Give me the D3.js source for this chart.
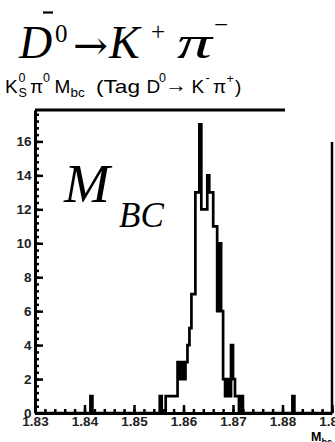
<!DOCTYPE html>
<html><head><meta charset="utf-8">
<script src="https://cdn.jsdelivr.net/npm/d3@7"></script>
<style>body{margin:0;background:#fff}svg{display:block}</style>
</head><body><svg id="c" width="335" height="442"></svg>
<script>
// ---- data ----
const xDomain = [1.83, 1.89];
const yMax = 17.85;
const binLow = 1.83;
const binWidth = 0.0004;
const counts = [
  0,0,0,0,0,0,0,0,0,0,
  0,0,0,0,0,0,0,0,0,0,
  0,0,0,0,0,0,0,0,1,0,
  0,0,0,0,0,0,0,0,0,0,
  0,0,0,0,0,0,0,0,0,0,
  0,0,0,0,0,0,0,0,0,0,
  0,0,0,1,0,0,1,1,1,1,
  1,1,3,2,3,2,3,4,5,7,
  7,13,13,17,12,12,12,14,13,13,
  11,11,6,10,6,2,1,2,1,4,
  2,1,1,0,1,0,0,0,0,0,
  0,0,0,0,0,0,0,0,0,0,
  0,0,0,0,0,0,0,0,0,0,
  1,0,0,0,0,0,0,0,0,0,
  0,0,0,0,0,0,0,0,0,0
];
const xTicks = [1.83, 1.84, 1.85, 1.86, 1.87, 1.88, 1.89];
const xMinorStep = 0.002;
const yTicks = [0, 2, 4, 6, 8, 10, 12, 14, 16];
const yMinorStep = 0.4;

// ---- drawing ----
const svg = d3.select("#c");
const L = 35, R = 332, T = 110, B = 413;
const x = d3.scaleLinear().domain(xDomain).range([L, R]);
const y = d3.scaleLinear().domain([0, yMax]).range([B, T]);

const sans = "'Liberation Sans', Arial, Helvetica, sans-serif";
const serif = "'Liberation Serif', 'Times New Roman', serif";

// frame pieces (top and right)
svg.append("line").attr("x1", L).attr("x2", 285).attr("y1", T).attr("y2", T)
  .attr("stroke", "#000").attr("stroke-width", 3);
svg.append("line").attr("x1", R).attr("x2", R).attr("y1", 142).attr("y2", B)
  .attr("stroke", "#000").attr("stroke-width", 2.5);

// histogram
const p = d3.path();
p.moveTo(x(binLow), y(0));
counts.forEach((c, i) => {
  p.lineTo(x(binLow + i * binWidth), y(c));
  p.lineTo(x(binLow + (i + 1) * binWidth), y(c));
});
p.lineTo(x(binLow + counts.length * binWidth), y(0));
svg.append("path").attr("d", p.toString()).attr("fill", "none")
  .attr("stroke", "#000").attr("stroke-width", 2.7).attr("stroke-linejoin", "miter");

// x axis
const xMinor = d3.range(0, 31).map(k => +(xDomain[0] + k * xMinorStep).toFixed(4));
const gxm = svg.append("g").attr("transform", `translate(0,${B})`)
  .call(d3.axisBottom(x).tickValues(xMinor).tickSize(-4).tickFormat(""));
const gx = svg.append("g").attr("transform", `translate(0,${B})`)
  .call(d3.axisBottom(x).tickValues(xTicks).tickSize(-8).tickSizeOuter(0).tickPadding(3).tickFormat(d3.format(".2f")));
// y axis
const yMinor = d3.range(0, 45).map(k => +(k * yMinorStep).toFixed(2)).filter(v => v <= yMax);
const gym = svg.append("g").attr("transform", `translate(${L},0)`)
  .call(d3.axisLeft(y).tickValues(yMinor).tickSize(-4).tickFormat(""));
const gy = svg.append("g").attr("transform", `translate(${L},0)`)
  .call(d3.axisLeft(y).tickValues(yTicks).tickSize(-8).tickSizeOuter(0).tickPadding(3.5).tickFormat(d3.format("d")));

[gxm, gx, gym, gy].forEach(g => {
  g.selectAll(".domain").attr("stroke", "#000").attr("stroke-width", 3);
  g.selectAll(".tick line").attr("stroke", "#000").attr("stroke-width", 2.5);
  g.selectAll("text").attr("font-family", sans).attr("font-size", 13.5).attr("font-weight", "bold").attr("fill", "#222");
});
gxm.select(".domain").remove();
gym.select(".domain").remove();

function txt(s, px, py, size, opts = {}) {
  const t = svg.append("text").attr("x", px).attr("y", py).text(s)
    .attr("font-family", opts.family || sans).attr("font-size", size).attr("fill", "#000");
  if (opts.italic) t.attr("font-style", "italic");
  if (opts.bold) t.attr("font-weight", "bold");
  if (opts.len) t.attr("textLength", opts.len).attr("lengthAdjust", "spacingAndGlyphs");
  return t;
}

// big title  D̄0 → K+ π−
txt("D", 19, 58, 46, {family: serif, italic: true});
svg.append("line").attr("x1", 43).attr("x2", 53).attr("y1", 12.5).attr("y2", 12.5)
  .attr("stroke", "#000").attr("stroke-width", 2.2);
txt("0", 55, 42, 25, {family: serif});
txt("\u2192", 73, 59, 40, {family: "'DejaVu Serif', serif", len: 35});
txt("K", 109, 58, 46, {family: serif, italic: true});
txt("+", 151, 40, 25, {family: serif});
txt("\u03C0", 177, 58, 46, {family: serif, italic: true, len: 35});
txt("\u2212", 214, 33, 25, {family: serif});

// ROOT title: K_S^0 π^0 M_bc (Tag D^0 → K^- π^+)
txt("K", 5, 93, 19);
txt("0", 18.5, 82, 12.5);
txt("S", 18.5, 97, 12.5);
txt("\u03C0", 30, 93, 19);
txt("0", 43, 82, 12.5);
txt("M", 54.5, 93, 19);
txt("bc", 70.5, 97, 13.5);
txt("(Tag", 96, 93, 19, {len: 44});
txt("D", 146.5, 93, 19);
txt("0", 159, 82, 12.5);
txt("\u2192", 165, 92, 20, {len: 22});
txt("K", 191.5, 93, 19);
txt("-", 205.5, 82, 13);
txt("\u03C0", 213, 93, 19);
txt("+", 226.5, 83, 12.5);
txt(")", 235, 93, 19);

// M_BC inside plot
txt("M", 64, 201.5, 55, {family: serif, italic: true});
txt("BC", 119, 226.5, 35, {family: serif, italic: true});

// x-axis title
txt("M", 311, 440.5, 12.5, {bold: true});
txt("bc", 321.5, 445, 9, {bold: true});
</script></body></html>
